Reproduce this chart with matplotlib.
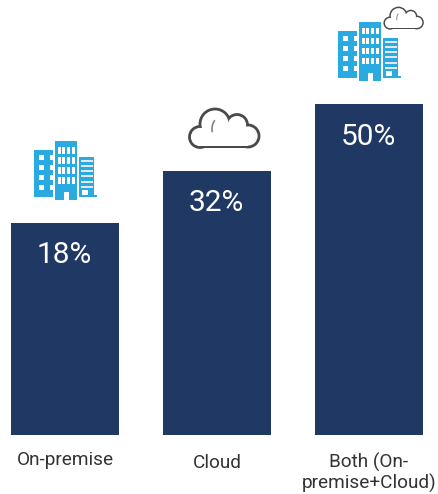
import matplotlib
matplotlib.use("Agg")
import matplotlib.pyplot as plt
from matplotlib.patches import Rectangle, Circle, Polygon, Arc

categories = ["On-premise", "Cloud", "Both (On-\npremise+Cloud)"]
shares = [18, 32, 50]
value_labels = ["18%", "32%", "50%"]

BASELINE = -39.4
PX_PER_UNIT = 3.70
BAR_COLOR = "#203864"
ICON_BLUE = "#29ABE2"
OUTLINE = "#4A4A4A"
TEXT_DARK = "#333333"
FONT = "Roboto"
W, H = 438, 494

fig = plt.figure(figsize=(W / 100, H / 100), dpi=100, facecolor="white")
ax = fig.add_axes([0, (H - 435) / H, 1, 435 / H])
ax.bar(range(3), [v - BASELINE for v in shares], bottom=BASELINE,
       width=108 / 152, color=BAR_COLOR)
ax.set_xlim(-65 / 152, (W - 65) / 152)
ax.set_ylim(BASELINE, BASELINE + 435 / PX_PER_UNIT)
ax.set_yticks([])
for side in ax.spines.values():
    side.set_visible(False)
ax.set_xticks(range(3), categories, fontfamily=FONT, fontsize=13.7,
              color=TEXT_DARK, linespacing=1.08)
ax.tick_params(axis="x", length=0)
for tick, pad in zip(ax.xaxis.get_major_ticks(), [11.5, 13.5, 13]):
    tick.set_pad(pad)

for i, (v, label) in enumerate(zip(shares, value_labels)):
    ax.annotate(label, (i, v), xytext=(-0.5, -23.5), textcoords="offset points",
                ha="center", va="center", color="white", fontfamily=FONT,
                fontsize=21.5)

# Overlay in pixel units for the pictograms above the bars
ov = fig.add_axes([0, 0, 1, 1], facecolor="none")
ov.set_xlim(0, W)
ov.set_ylim(H, 0)
ov.axis("off")


def rect(x0, y0, x1, y1, color):
    ov.add_patch(Rectangle((x0, y0), x1 - x0, y1 - y0, facecolor=color,
                           edgecolor="none"))


def buildings(dx, dy):
    # left block
    rect(34 + dx, 150 + dy, 53 + dx, 197 + dy, ICON_BLUE)
    for wy in (155, 165, 175, 185):
        rect(38.5 + dx, wy + dy, 44 + dx, wy + 5 + dy, "white")
        rect(49.5 + dx, wy + dy, 53.2 + dx, wy + 5 + dy, "white")
    # centre tower
    rect(55 + dx, 141 + dy, 77 + dx, 200 + dy, ICON_BLUE)
    for wy in (147, 157, 167, 177):
        for wx in (57.7, 62.3, 67, 71.7):
            rect(wx + dx, wy + dy, wx + 3 + dx, wy + 6.5 + dy, "white")
    rect(63.5 + dx, 192 + dy, 69 + dx, 200.2 + dy, "white")
    # right block with foot
    rect(79 + dx, 157 + dy, 94 + dx, 197 + dy, ICON_BLUE)
    rect(94 + dx, 195 + dy, 97 + dx, 197 + dy, ICON_BLUE)
    for wy in (160, 165, 170, 175, 181, 186):
        rect(81 + dx, wy + dy, 92.5 + dx, wy + 1.6 + dy, "#E4E8EA")
    rect(81.5 + dx, 190 + dy, 87.5 + dx, 195 + dy, "white")


def cloud(cx, cy, s, lw):
    # outline is a union of lobes, hollowed out by a slightly smaller white union
    lobes = [(-24, 1, 10.5), (-9, -12, 15), (13, -11, 10.5), (24, 0, 11)]
    for grow, color in ((lw / 2, OUTLINE), (-lw / 2, "white")):
        for lx, ly, r in lobes:
            ov.add_patch(Circle((cx + lx * s, cy + ly * s), r * s + grow,
                                facecolor=color, edgecolor="none"))
        ov.add_patch(Rectangle((cx - 24 * s, cy), 48 * s, 11 * s + grow,
                               facecolor=color, edgecolor="none"))
        ov.add_patch(Polygon([(cx - 24 * s, cy + 5 * s), (cx + 24 * s, cy + 5 * s),
                              (cx + 13 * s, cy - 11 * s), (cx - 9 * s, cy - 12 * s)],
                             closed=True, facecolor=color, edgecolor="none"))
    ov.add_patch(Arc((cx - 3 * s, cy - 7 * s), 18 * s, 24 * s, theta1=160, theta2=235,
                     edgecolor="#888888", linewidth=lw * 0.45))


buildings(0, 0)
cloud(224, 136, 1.0, 2.8)
buildings(304, -119)
cloud(403.5, 22.5, 0.56, 1.5)

fig.savefig("out.png", dpi=100, facecolor="white")
